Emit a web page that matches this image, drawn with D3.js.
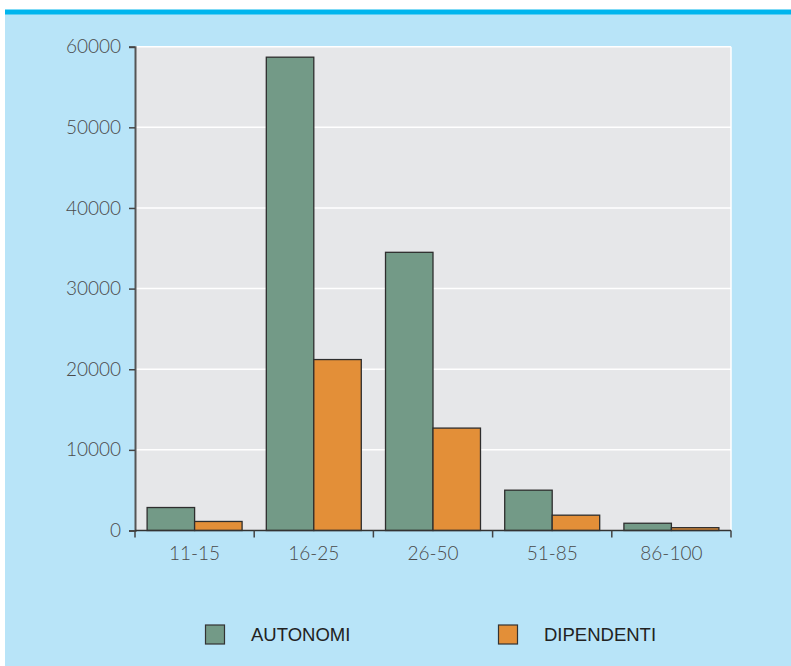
<!DOCTYPE html>
<html>
<head>
<meta charset="utf-8">
<script src="https://cdn.jsdelivr.net/npm/d3@7"></script>
<style>
  html, body { margin: 0; padding: 0; background: #ffffff; }
  svg { display: block; }
</style>
</head>
<body>
<div id="chart"></div>
<script>
// Classes of workers by size band, two series
const categories = ["11-15", "16-25", "26-50", "51-85", "86-100"];
const seriesNames = ["AUTONOMI", "DIPENDENTI"];
const autonomi = [2850, 58700, 34500, 5000, 900];
const dipendenti = [1120, 21200, 12700, 1900, 350];
const yTicks = [0, 10000, 20000, 30000, 40000, 50000, 60000];
const colors = ["#739a87", "#e38f38"];

const W = 791, H = 666;
const plot = { left: 135, right: 731, top: 46.7, bottom: 530.5 };

const svg = d3.select("#chart").append("svg")
  .attr("width", W).attr("height", H);

// page background and top rule
svg.append("rect").attr("x", 5).attr("y", 14).attr("width", W - 5).attr("height", H - 14)
  .attr("fill", "#b8e4f8");
svg.append("rect").attr("x", 5).attr("y", 9.5).attr("width", W - 5).attr("height", 5)
  .attr("fill", "#00b5ee");

const x0 = d3.scaleBand().domain(categories).range([plot.left, plot.right]).paddingInner(0).paddingOuter(0);
const x1 = d3.scaleBand().domain(seriesNames).range([0, x0.bandwidth()]).paddingOuter(0.255).paddingInner(0);
const y = d3.scaleLinear().domain([0, 60000]).range([plot.bottom, plot.top]);

// plot background
svg.append("rect")
  .attr("x", plot.left).attr("y", plot.top)
  .attr("width", plot.right - plot.left).attr("height", plot.bottom - plot.top)
  .attr("fill", "#e6e7e9");
svg.append("line")
  .attr("x1", plot.right).attr("x2", plot.right)
  .attr("y1", plot.top).attr("y2", plot.bottom)
  .attr("stroke", "#ffffff").attr("stroke-width", 1.5);

// gridlines
svg.append("g").selectAll("line").data(yTicks.filter(d => d > 0)).join("line")
  .attr("x1", plot.left).attr("x2", plot.right)
  .attr("y1", d => y(d)).attr("y2", d => y(d))
  .attr("stroke", "#ffffff").attr("stroke-width", 1.5);

// bars
const rows = categories.map((c, i) => ({ cat: c, vals: [autonomi[i], dipendenti[i]] }));
const g = svg.append("g").selectAll("g").data(rows).join("g")
  .attr("transform", d => `translate(${x0(d.cat)},0)`);
g.selectAll("rect").data(d => d.vals.map((v, k) => ({ key: seriesNames[k], v, k }))).join("rect")
  .attr("x", d => x1(d.key))
  .attr("y", d => y(d.v))
  .attr("width", x1.bandwidth())
  .attr("height", d => y(0) - y(d.v))
  .attr("fill", d => colors[d.k])
  .attr("stroke", "#2e2e2e").attr("stroke-width", 1.3);

const tickFont = "Lato, 'DejaVu Sans', sans-serif";

// y axis
const yAxis = svg.append("g").attr("transform", `translate(${plot.left},0)`)
  .call(d3.axisLeft(y).tickValues(yTicks).tickSize(6).tickPadding(8).tickFormat(d3.format("d")));
yAxis.select(".domain").attr("stroke", "#555").attr("stroke-width", 2);
yAxis.selectAll(".tick line").attr("stroke", "#444").attr("stroke-width", 1.5);
yAxis.selectAll(".tick text")
  .attr("fill", "#4a4a4a").style("font-family", tickFont).style("font-weight", 300).style("font-size", "19px");

// x axis: ticks at band boundaries
const xAxisG = svg.append("g").attr("transform", `translate(0,${plot.bottom})`);
xAxisG.append("line").attr("x1", plot.left).attr("x2", plot.right)
  .attr("stroke", "#333").attr("stroke-width", 1.5);
const bounds = categories.map(c => x0(c)).concat([plot.right]);
xAxisG.selectAll("line.tk").data(bounds).join("line").attr("class", "tk")
  .attr("x1", d => d).attr("x2", d => d).attr("y1", 0).attr("y2", 7)
  .attr("stroke", "#444").attr("stroke-width", 1.5);
xAxisG.selectAll("text").data(categories).join("text")
  .attr("x", d => x0(d) + x0.bandwidth() / 2).attr("y", 29.5)
  .attr("text-anchor", "middle")
  .attr("fill", "#4a4a4a").style("font-family", tickFont).style("font-weight", 300).style("font-size", "19px")
  .text(d => d);

// legend
const legendX = [205.5, 498.5];
const leg = svg.append("g").selectAll("g").data(seriesNames).join("g")
  .attr("transform", (d, i) => `translate(${legendX[i]},625)`);
leg.append("rect").attr("width", 19).attr("height", 19)
  .attr("fill", (d, i) => colors[i]).attr("stroke", "#333").attr("stroke-width", 1.2);
leg.append("text").attr("x", 45.5).attr("y", 15.5)
  .attr("fill", "#222").style("font-family", "'Liberation Sans', Arial, sans-serif").style("font-size", "18.5px")
  .text(d => d);
</script>
</body>
</html>
